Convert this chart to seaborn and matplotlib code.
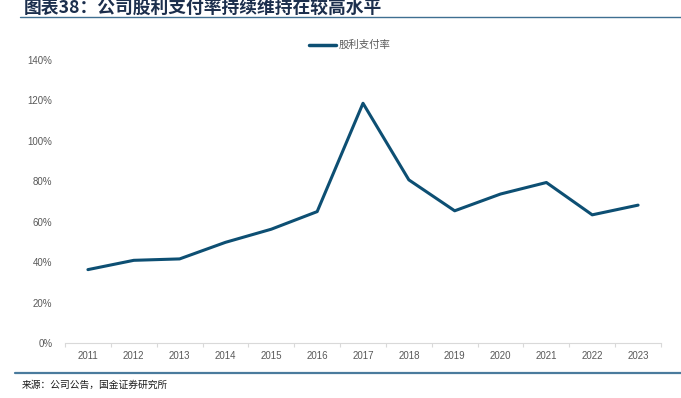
import numpy as np
import pandas as pd
import matplotlib
matplotlib.use("Agg")
import matplotlib.pyplot as plt
from matplotlib.ticker import FixedLocator, PercentFormatter
import seaborn as sns

years = ["2011", "2012", "2013", "2014", "2015", "2016", "2017",
         "2018", "2019", "2020", "2021", "2022", "2023"]
payout = [36.3, 40.9, 41.6, 49.8, 56.3, 65.0, 118.6,
          80.7, 65.4, 73.7, 79.4, 63.4, 68.2]
series_name = "股利支付率"
title = "图表38：公司股利支付率持续维持在较高水平"
source = "来源：公司公告，国金证券研究所"
yticks = [0, 20, 40, 60, 80, 100, 120, 140]

sns.set_theme(style="white")
plt.rcParams['font.family'] = ['Noto Sans CJK SC', 'DejaVu Sans']

df = pd.DataFrame({"year": years, "value": payout, "series": series_name})

fig = plt.figure(figsize=(6.81, 3.98), dpi=100)
ax = fig.add_axes([65/681, 1-343/398, (661-65)/681, (343-60)/398])

line_color = "#0d4f73"
sns.lineplot(data=df, x="year", y="value", hue="series", palette=[line_color],
             linewidth=2.2, ax=ax, sort=False)

ax.set_xlim(-0.5, len(years) - 0.5)
ax.set_ylim(0, 140)
ax.set_yticks(yticks)
ax.yaxis.set_major_formatter(PercentFormatter(decimals=0))
ax.set_xlabel("")
ax.set_ylabel("")

for s in ["top", "right", "left"]:
    ax.spines[s].set_visible(False)
ax.spines["bottom"].set_color("#d9d9d9")
ax.spines["bottom"].set_linewidth(0.8)

ax.tick_params(axis="y", length=0, labelsize=7, labelcolor="#595959", pad=9)
ax.tick_params(axis="x", which="major", length=0, labelsize=7, labelcolor="#595959", pad=6)
ax.xaxis.set_minor_locator(FixedLocator([i + 0.5 for i in range(-1, len(years))]))
ax.tick_params(axis="x", which="minor", length=3, width=0.8, color="#d9d9d9", direction="out", bottom=True)
ax.grid(False)
for lab in ax.get_xticklabels() + ax.get_yticklabels():
    lab.set_fontfamily(['Liberation Sans', 'DejaVu Sans'])

leg = ax.legend(loc="upper center", bbox_to_anchor=(350/681, 1-36/398),
                bbox_transform=fig.transFigure, frameon=False, fontsize=7.5,
                handlelength=2.5, handletextpad=0.3, borderaxespad=0)
for t in leg.get_texts():
    t.set_color("#595959")
for h in leg.get_lines():
    h.set_linewidth(2.5)

# title and decorative rules
fig.text(24/681, 1-8/398, title, fontsize=12.8, fontweight="bold", style="italic",
         color="#1c2f4d", va="center", ha="left")
fig.add_artist(plt.Line2D([20/681, 1.0], [1-17/398, 1-17/398], color="#3f6f91", linewidth=1.0))
fig.add_artist(plt.Line2D([15/681, 1.0], [1-373/398, 1-373/398], color="#4a7b9d", linewidth=1.6))
fig.text(22/681, 1-385/398, source, fontsize=7, color="#1a1a1a", va="center", ha="left")

fig.savefig("out.png", dpi=100)
